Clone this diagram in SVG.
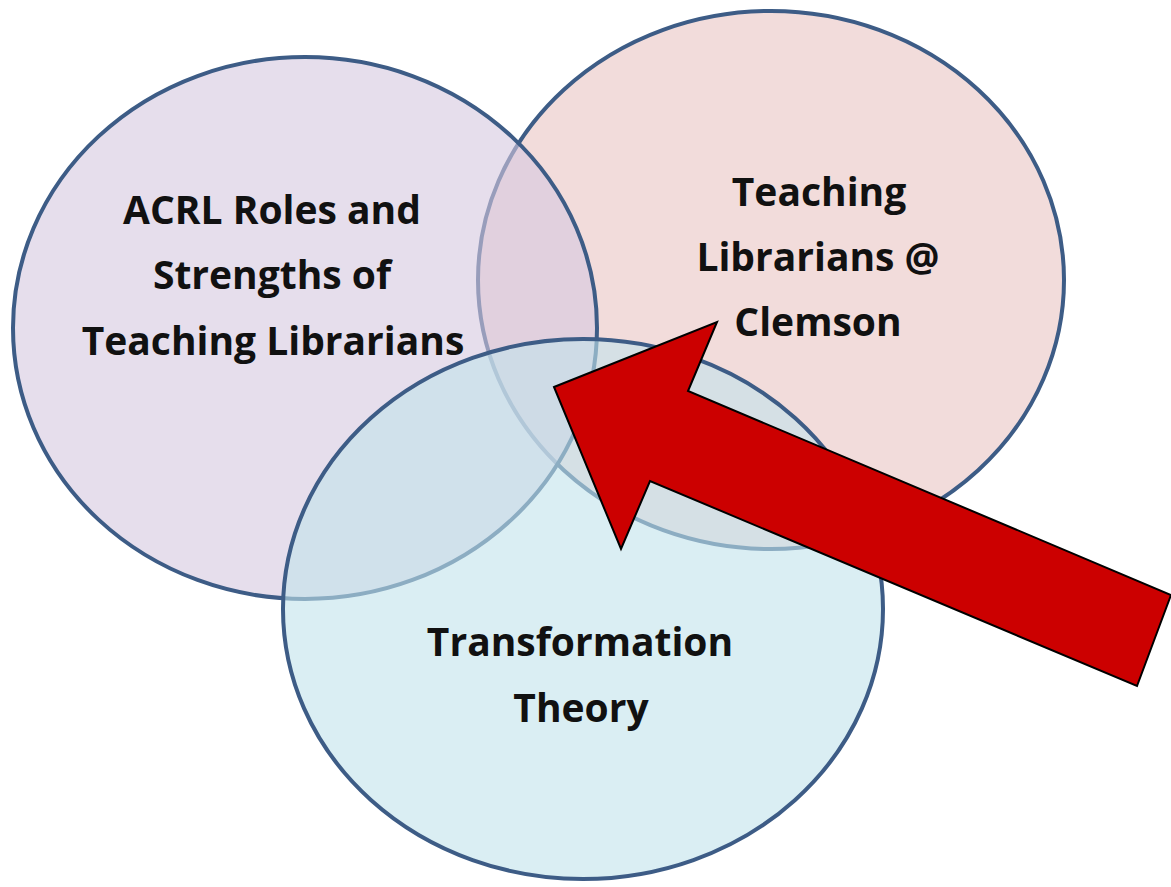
<svg xmlns="http://www.w3.org/2000/svg" width="1171" height="887" viewBox="0 0 1171 887">
  <style>
    .set { stroke: #3d5c86; stroke-width: 4; fill-opacity: 0.6; }
    .label { font-family: "Open Sans", "Liberation Sans", sans-serif; font-weight: bold; font-size: 39px; fill: #111111; text-anchor: middle; font-variant-ligatures: none; }
    .pointer { fill: #cc0000; stroke: #000000; stroke-width: 2; stroke-linejoin: miter; }
  </style>
  <rect width="1171" height="887" fill="#ffffff"/>

  <!-- Venn sets: right drawn first, then left, then bottom on top -->
  <g id="teaching-librarians-clemson">
    <ellipse class="set" cx="771" cy="280" rx="293" ry="269" fill="#e9c5c3"/>
  </g>
  <g id="acrl-roles">
    <ellipse class="set" cx="305" cy="328" rx="292" ry="271" fill="#d5c8df"/>
  </g>
  <g id="transformation-theory">
    <ellipse class="set" cx="583" cy="609" rx="300" ry="270" fill="#c1e3eb"/>
  </g>

  <!-- Labels -->
  <g id="labels">
    <text class="label" x="272" y="224">ACRL Roles and</text>
    <text class="label" x="272" y="289">Strengths of</text>
    <text class="label" x="273" y="355">Teaching Librarians</text>
    <text class="label" x="819" y="206">Teaching</text>
    <text class="label" x="818" y="271">Librarians @</text>
    <text class="label" x="818" y="336">Clemson</text>
    <text class="label" x="580" y="656">Transformation</text>
    <text class="label" x="581" y="722">Theory</text>
  </g>

  <!-- Pointer arrow into the common intersection -->
  <g id="connectors">
    <polygon class="pointer" points="554,387 717,322 688,391 1171,595 1137,686 650,481 621,549"/>
  </g>
</svg>
